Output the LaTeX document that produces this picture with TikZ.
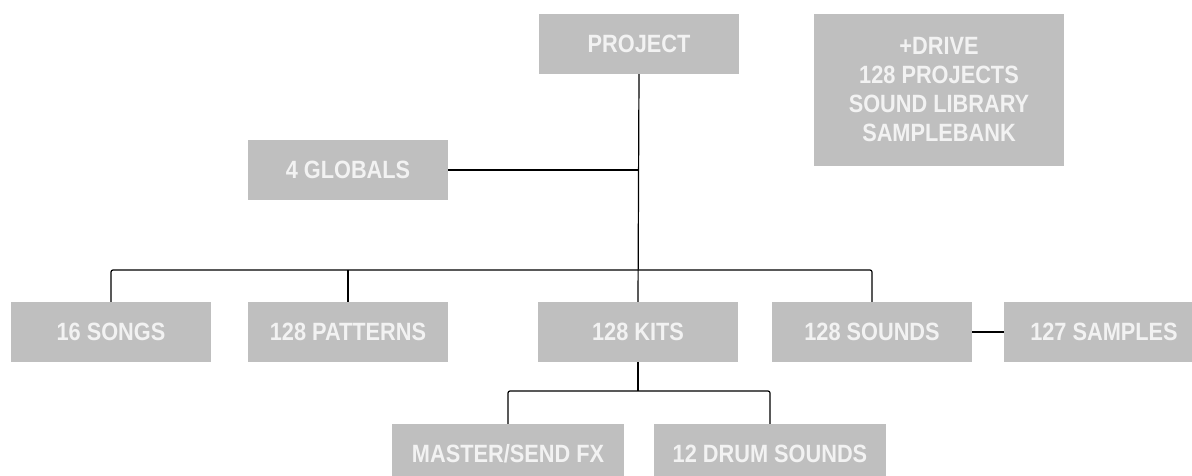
\documentclass[tikz,border=0pt]{standalone}
\usepackage{fontspec}
\setmainfont{Liberation Sans}[FakeStretch=0.87]
\definecolor{boxgray}{HTML}{BFBFBF}
\definecolor{boxtext}{HTML}{F2F2F2}
\tikzset{
    unit/.style={fill=boxgray, text=boxtext, font=\bfseries\fontsize{25}{29}\selectfont,
        minimum width=200pt, minimum height=60pt, inner sep=0pt, align=center},
    wide/.style={unit, minimum width=232pt},
    link/.style={draw=black, line width=1.2pt, rounded corners=2pt}
}
\begin{document}
\begin{tikzpicture}[x=1pt,y=-1pt]
    \useasboundingbox (0,0) rectangle (1192,476);
    \node[unit] (project) at (639,44) {PROJECT};
    \node[unit, minimum width=250pt, minimum height=152pt] (drive) at (939,90)
        {+DRIVE\\128 PROJECTS\\SOUND LIBRARY\\SAMPLEBANK};
    \node[unit] (globals) at (348,170) {4 GLOBALS};
    \node[unit] (songs) at (111,332) {16 SONGS};
    \node[unit] (patterns) at (348,332) {128 PATTERNS};
    \node[unit] (kits) at (638,332) {128 KITS};
    \node[unit] (sounds) at (872,332) {128 SOUNDS};
    \node[unit] (samples) at (1104,332) {127 SAMPLES};
    \node[wide] (master) at (508,454) {MASTER/SEND FX};
    \node[wide] (drum) at (770,454) {12 DRUM SOUNDS};
    \coordinate (hub) at (638,270);
    \coordinate (kithub) at (638,391);
    % tree lines
    \draw[link] (project.south) -- (kits.north);
    \draw[link] (globals.east) -- (globals.east -| project.south);
    \draw[link] (songs.north) |- (hub) -| (sounds.north);
    \draw[link] (patterns.north) -- (patterns.north |- hub);
    \draw[link] (kits.south) -- (kithub);
    \draw[link] (master.north) |- (kithub) -| (drum.north);
    \draw[link] (sounds.east) -- (samples.west);
\end{tikzpicture}
\end{document}
